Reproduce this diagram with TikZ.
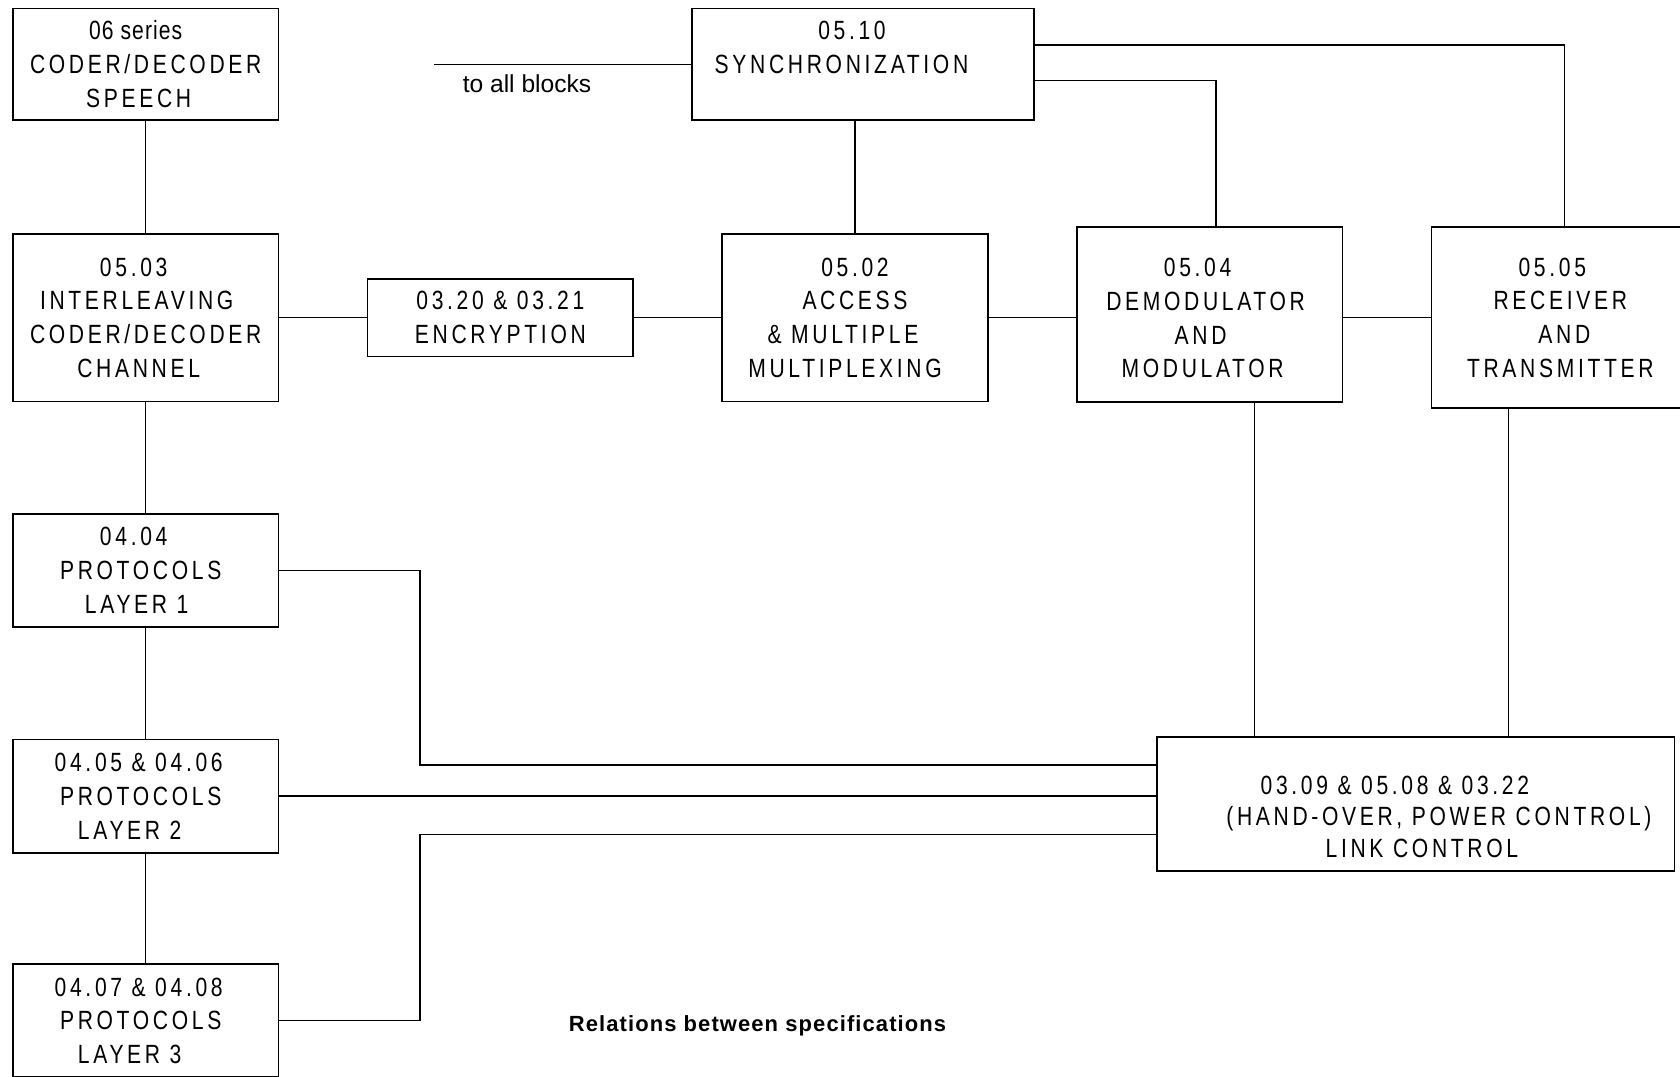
\documentclass[tikz,border=0pt]{standalone}
\usepackage{fontspec}
\setmainfont{Liberation Sans}
\newfontfamily\blockfont[FakeStretch=0.8,LetterSpace=13.9]{Liberation Sans}
\newfontfamily\captionfont[LetterSpace=5]{Liberation Sans}

\begin{document}
\begin{tikzpicture}[x=0.02cm, y=-0.02cm,
    block/.style={draw, line width=0.9pt, align=center, inner sep=0pt,
        minimum width=5.31cm, font={\blockfont\fontsize{15}{19.2}\selectfont}},
    wire/.style={line width=0.8pt}]
    \fill[white] (0,0) rectangle (1680,1076);
    \useasboundingbox (0,0) rectangle (1680,1076);

    % Define the blocks with specific positions
    \node[block, minimum height=2.23cm] (speech) at (145.7,64.3)
        {{\addfontfeature{LetterSpace=4}06 series}\rule{0.4cm}{0pt}\\CODER/DECODER\\SPEECH\rule{0.28cm}{0pt}};
    \node[block, minimum height=3.36cm] (inter) at (145.7,317.7)
        {05.03\rule{0.48cm}{0pt}\\INTERLEAVING\rule{0.36cm}{0pt}\\CODER/DECODER\\CHANNEL\rule{0.28cm}{0pt}};
    \node[block, minimum height=1.56cm] (crypt) at (500.4,317.7) {03.20 \& 03.21\\ENCRYPTION};
    \node[block, minimum height=3.36cm] (access) at (855,317.7)
        {05.02\\ACCESS\\\& MULTIPLE\rule{0.48cm}{0pt}\\MULTIPLEXING\rule{0.4cm}{0pt}};
    \node[block, minimum height=3.49cm] (demod) at (1209.6,314.5)
        {\rule{0pt}{0.514cm}05.04\rule{0.48cm}{0pt}\\DEMODULATOR\rule{0.16cm}{0pt}\\AND\rule{0.36cm}{0pt}\\MODULATOR\rule{0.28cm}{0pt}};
    \node[block, minimum height=3.62cm] (rx) at (1564.3,317.7)
        {05.05\rule{0.48cm}{0pt}\\RECEIVER\rule{0.16cm}{0pt}\\AND\\TRANSMITTER\rule{0.16cm}{0pt}};
    \node[block, minimum width=6.84cm, minimum height=2.23cm] (sync) at (863,64.3)
        {05.10\rule{0.44cm}{0pt}\\SYNCHRONIZATION\rule{0.86cm}{0pt}\\\mbox{}};

    \node[block, minimum height=2.25cm] (proto1) at (145.7,570.5)
        {04.04\rule{0.48cm}{0pt}\\PROTOCOLS\rule{0.2cm}{0pt}\\LAYER 1\rule{0.36cm}{0pt}};
    \node[block, minimum height=2.27cm] (proto2) at (145.7,796.1)
        {04.05 \& 04.06\rule{0.28cm}{0pt}\\PROTOCOLS\rule{0.2cm}{0pt}\\LAYER 2\rule{0.64cm}{0pt}};
    \node[block, minimum height=2.26cm] (proto3) at (145.7,1020.7)
        {04.07 \& 04.08\rule{0.28cm}{0pt}\\PROTOCOLS\rule{0.2cm}{0pt}\\LAYER 3\rule{0.64cm}{0pt}};

    \node[block, minimum width=10.35cm, minimum height=2.68cm, font={\blockfont\fontsize{15}{18.2}\selectfont}] (linkctl) at (1415.9,804.1)
        {\rule{0pt}{0.88cm}03.09 \& 05.08 \& 03.22\rule{0.84cm}{0pt}\\\rule{0.92cm}{0pt}(HAND-OVER, POWER CONTROL)\\\rule{0.24cm}{0pt}LINK CONTROL};

    \coordinate (tip) at (433.9,65.4);
    \node[font=\fontsize{14}{17}\selectfont] (allblocks) at (527,83.6) {to all blocks};
    \node[font=\captionfont\bfseries\fontsize{12.5}{15}\selectfont] (caption) at (757.5,1026) {Relations between specifications};

    % Draw the connections between blocks
    \draw[wire] (sync.west) -- (sync.west -| tip);
    \draw[wire] (access.north |- sync.south) -- (access.north);
    \draw[wire] (sync.east |- 0,80.4) -| (demod.north -| 1216.1,0);
    \draw[wire] (sync.east |- 0,45) -| (rx.north);

    \draw[wire] (inter) -- (crypt);
    \draw[wire] (crypt) -- (access);
    \draw[wire] (access.east) -- (access.east -| demod.west);
    \draw[wire] (rx.west -| demod.east) -- (rx.west);

    \draw[wire] (speech) -- (inter);
    \draw[wire] (inter) -- (proto1);
    \draw[wire] (proto1) -- (proto2);
    \draw[wire] (proto2) -- (proto3);

    \draw[wire] (demod.south -| 1254.6,0) -- (linkctl.north -| 1254.6,0);
    \draw[wire] (rx.south -| 1508.6,0) -- (linkctl.north -| 1508.6,0);

    \draw[wire] (proto1.east) -| (420,765) -- (linkctl.west |- 420,765);
    \draw[wire] (proto2.east) -- (proto2.east -| linkctl.west);
    \draw[wire] (proto3.east) -| (420,834.6) -- (linkctl.west |- 420,834.6);
\end{tikzpicture}
\end{document}
